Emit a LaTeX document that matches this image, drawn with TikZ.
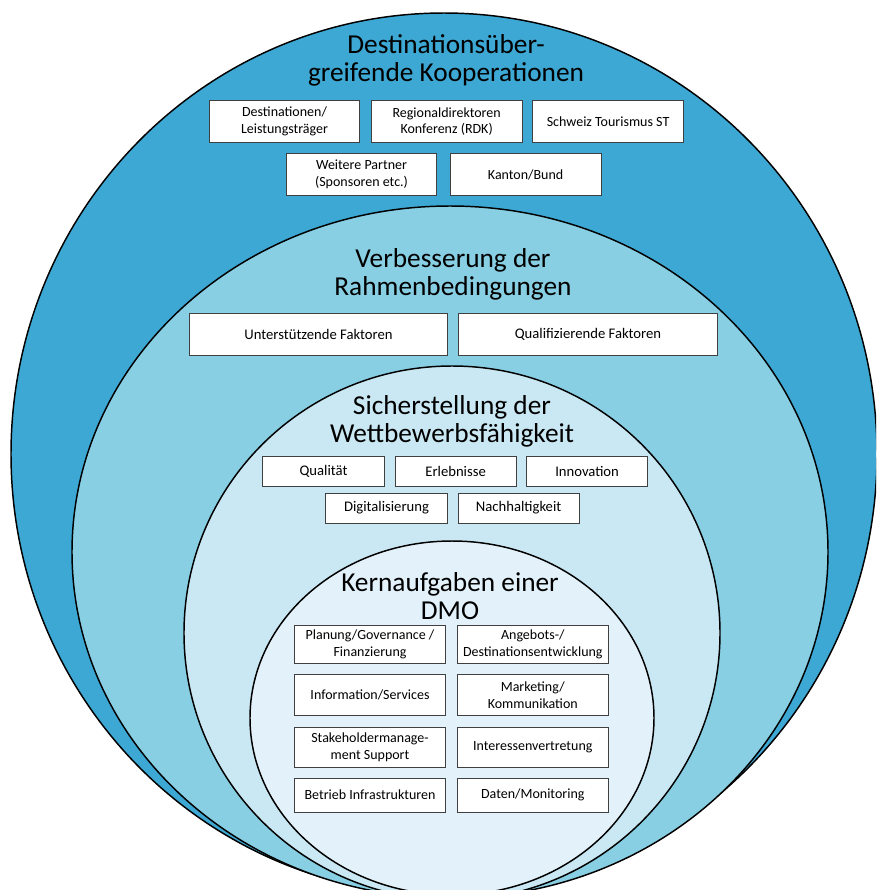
\documentclass[tikz,border=0pt]{standalone}
\usepackage{fontspec}
\setmainfont{Carlito}
\usepackage{tikz}
\usetikzlibrary{positioning}
\definecolor{ringA}{RGB}{61,168,211}
\definecolor{ringB}{RGB}{137,207,228}
\definecolor{ringC}{RGB}{202,232,243}
\definecolor{ringD}{RGB}{227,242,250}
\tikzset{ring/.style={draw=black, line width=1.1pt}}
\tikzset{kasten/.style={draw=black!75, fill=white, line width=0.6pt, align=center, inner sep=1pt,
  minimum width=113pt, minimum height=32pt, font=\fontsize{10.5}{12.5}\selectfont}}
\tikzset{kleinkasten/.style={kasten, minimum width=91pt, minimum height=22.5pt, font=\fontsize{11}{13}\selectfont}}
\tikzset{titel/.style={align=center, font=\fontsize{20.5}{21}\selectfont}}

\begin{document}
\begin{tikzpicture}[x=0.75pt, y=-0.75pt]
\useasboundingbox (0,0) rectangle (876,890);
\begin{scope}
\clip (0,0) rectangle (876,890);
\draw[ring, fill=ringA] (444,454) ellipse [x radius=433, y radius=441];
\draw[ring, fill=ringB] (450,552) ellipse [x radius=378, y radius=346];
\draw[ring, fill=ringC] (452,633) ellipse [x radius=268, y radius=267];
\draw[ring, fill=ringD] (452,718) ellipse [x radius=202, y radius=177];
\end{scope}

% Kooperationen
\node[titel] (koop) at (446,60) {Destinationsüber-\\greifende Kooperationen};
\node[kasten] (dest) at (284.5,121.5) {Destinationen/\\Leistungsträger};
\node[kasten] (rdk) [right=8pt of dest] {Regionaldirektoren\\Konferenz (RDK)};
\node[kasten] (st) [right=7.5pt of rdk] {Schweiz Tourismus ST};
\node[kasten] (partner) at (361.5,174.5) {Weitere Partner\\(Sponsoren etc.)};
\node[kasten] (kanton) [right=9.5pt of partner] {Kanton/Bund};

% Rahmenbedingungen
\node[titel] (rahmen) at (453,274) {Verbesserung der\\Rahmenbedingungen};
\node[kasten, minimum width=194pt, font=\fontsize{11}{13}\selectfont] (unter) at (318.5,334.5) {Unterstützende Faktoren};
\node[kasten, minimum width=194pt, font=\fontsize{11}{13}\selectfont] (quali) [right=7.5pt of unter] {Qualifizierende Faktoren};

% Wettbewerbsfaehigkeit
\node[titel] (wett) at (452,421) {Sicherstellung der\\Wettbewerbsfähigkeit};
\node[kleinkasten] (qual) at (323.5,471.5) {Qualität};
\node[kleinkasten] (erleb) [right=7.5pt of qual] {Erlebnisse};
\node[kleinkasten] (innov) [right=7pt of erleb] {Innovation};
\node[kleinkasten] (digi) at (386.5,508) {Digitalisierung};
\node[kleinkasten] (nach) [right=7.5pt of digi] {Nachhaltigkeit};

% Kernaufgaben
\node[titel] (kern) at (450,596) {Kernaufgaben einer\\DMO};
\node[kasten, minimum height=28pt] (plan) at (370,644.5) {Planung/Governance /\\Finanzierung};
\node[kasten, minimum height=28pt] (angeb) [right=8.5pt of plan] {Angebots-/\\Destinationsentwicklung};
\node[kasten, minimum height=31pt] (info) at (370,695) {Information/Services};
\node[kasten, minimum height=31pt] (mark) [right=8.5pt of info] {Marketing/\\Kommunikation};
\node[kasten, minimum height=30pt] (stake) at (370,747) {Stakeholdermanage-\\ment Support};
\node[kasten, minimum height=30pt] (inter) [right=8.5pt of stake] {Interessenvertretung};
\node[kasten, minimum height=25.5pt] (betr) at (370,795) {Betrieb Infrastrukturen};
\node[kasten, minimum height=25.5pt] (daten) [right=8.5pt of betr] {Daten/Monitoring};
\end{tikzpicture}
\end{document}
